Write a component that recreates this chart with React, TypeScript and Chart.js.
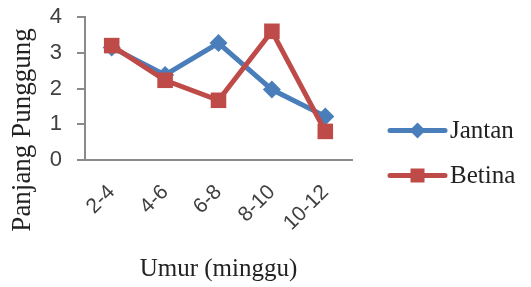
import React, { useEffect, useRef } from "react";
import { Chart, registerables } from "chart.js";

Chart.register(...registerables);

const categories = ["2-4", "4-6", "6-8", "8-10", "10-12"];
const jantan = [3.15, 2.38, 3.27, 1.97, 1.22];
const betina = [3.2, 2.23, 1.67, 3.6, 0.8];
const yTicks = [0, 1, 2, 3, 4];
const seriesNames = ["Jantan", "Betina"];
const yTitle = "Panjang Punggung";
const xTitle = "Umur (minggu)";

const BLUE = "#4a7ebb";
const RED = "#be4b48";
const AXIS = "#8a8a8a";

const yTitlePlugin = {
  id: "yTitleCustom",
  afterDraw(chart: any) {
    const { ctx, chartArea } = chart;
    ctx.save();
    ctx.font = "27px 'Liberation Serif'";
    ctx.fillStyle = "#222";
    ctx.textAlign = "center";
    ctx.textBaseline = "middle";
    ctx.translate(chartArea.left - 62, chartArea.bottom - 30);
    ctx.rotate(-Math.PI / 2);
    ctx.fillText(yTitle, 0, 0);
    ctx.restore();
  },
};

const legendPlugin = {
  id: "lineLegend",
  afterDraw(chart: any) {
    const { ctx, chartArea } = chart;
    const x0 = chartArea.right + 38;
    const len = 55;
    const yc = chartArea.bottom - 7;
    const gap = 45;
    chart.data.datasets.forEach((ds: any, i: number) => {
      const y = yc + (i - 0.5) * gap;
      ctx.save();
      ctx.strokeStyle = ds.borderColor;
      ctx.lineWidth = 5;
      ctx.lineCap = "round";
      ctx.beginPath();
      ctx.moveTo(x0, y);
      ctx.lineTo(x0 + len, y);
      ctx.stroke();
      ctx.fillStyle = ds.backgroundColor;
      const cx = x0 + len / 2;
      if (ds.pointStyle === "rectRot") {
        const r = 8;
        ctx.beginPath();
        ctx.moveTo(cx, y - r);
        ctx.lineTo(cx + r, y);
        ctx.lineTo(cx, y + r);
        ctx.lineTo(cx - r, y);
        ctx.closePath();
        ctx.fill();
      } else {
        const s = 7;
        ctx.fillRect(cx - s, y - s, 2 * s, 2 * s);
      }
      ctx.font = "25px 'Liberation Serif'";
      ctx.fillStyle = "#222";
      ctx.textAlign = "left";
      ctx.textBaseline = "middle";
      ctx.fillText(ds.label, x0 + len + 5, y + 1);
      ctx.restore();
    });
  },
};

export default function App() {
  const ref = useRef<HTMLCanvasElement>(null);
  useEffect(() => {
    document.body.style.margin = "0";
    const chart = new Chart(ref.current!, {
      type: "line",
      data: {
        labels: categories,
        datasets: [
          {
            label: seriesNames[0],
            data: jantan,
            borderColor: BLUE,
            backgroundColor: BLUE,
            borderWidth: 5,
            pointStyle: "rectRot",
            pointRadius: 9,
            pointBorderWidth: 0,
            tension: 0,
            order: 1,
          },
          {
            label: seriesNames[1],
            data: betina,
            borderColor: RED,
            backgroundColor: RED,
            borderWidth: 5,
            pointStyle: "rect",
            pointRadius: 11,
            pointBorderWidth: 0,
            tension: 0,
            order: 0,
          },
        ],
      },
      options: {
        animation: false,
        responsive: true,
        maintainAspectRatio: false,
        layout: { padding: { top: 17, right: 179, left: 0, bottom: 0 } },
        plugins: { legend: { display: false }, tooltip: { enabled: false } },
        scales: {
          x: {
            type: "category",
            offset: true,
            grid: { display: false, drawTicks: false },
            border: { display: true, color: AXIS, width: 2 },
            ticks: {
              minRotation: 45,
              maxRotation: 45,
              padding: 20,
              color: "#404040",
              font: { family: "'Liberation Sans'", size: 21 },
            },
            title: {
              display: true,
              text: xTitle,
              color: "#222",
              font: { family: "'Liberation Serif'", size: 25 },
              padding: { top: 0, bottom: 3 },
            },
            afterFit(scale: any) {
              scale.height = 127;
            },
          },
          y: {
            min: yTicks[0],
            max: yTicks[yTicks.length - 1],
            grid: {
              drawOnChartArea: false,
              drawTicks: true,
              tickLength: 8,
              color: AXIS,
              lineWidth: 2,
            },
            border: { display: true, color: AXIS, width: 2 },
            afterBuildTicks(scale: any) {
              scale.ticks = yTicks.map((v) => ({ value: v }));
            },
            ticks: {
              padding: 15,
              color: "#404040",
              font: { family: "'Liberation Sans'", size: 22 },
            },
            afterFit(scale: any) {
              scale.width = 85;
              scale.paddingTop = 0;
              scale.paddingBottom = 0;
            },
          },
        },
      },
      plugins: [yTitlePlugin, legendPlugin],
    });
    return () => chart.destroy();
  }, []);
  return (
    <div style={{ width: 531, height: 287, position: "relative" }}>
      <canvas ref={ref} />
    </div>
  );
}
